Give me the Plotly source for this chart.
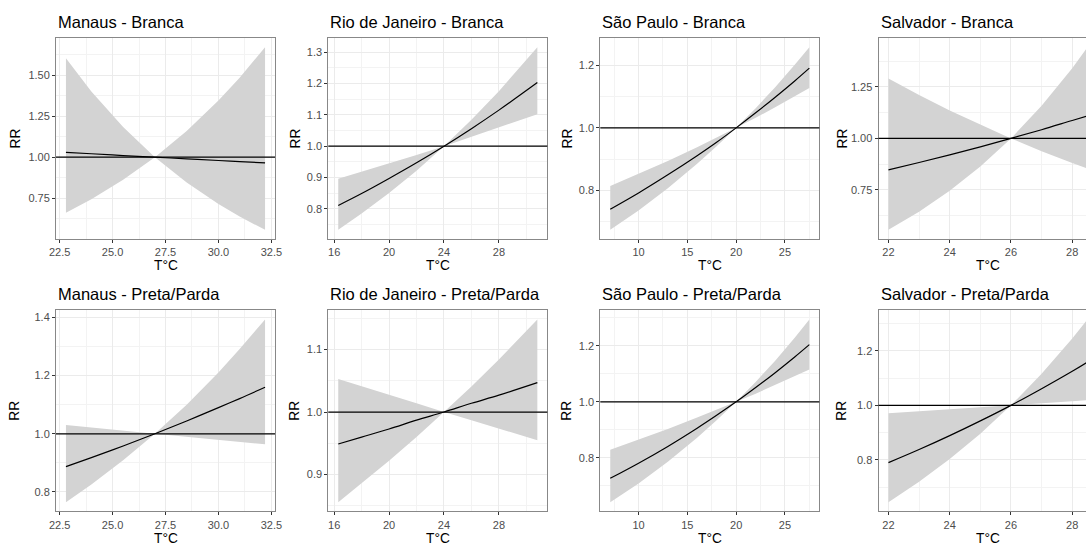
import plotly.graph_objects as go

W, H = 1086, 545

# ---------------- data ----------------
manaus_x = [22.8, 24.0, 25.5, 27.0, 28.5, 30.0, 31.0, 32.2]
rio_x = [16.3, 18.0, 20.0, 22.0, 24.0, 26.0, 28.0, 30.8]
sp_x = [7.1, 10.0, 13.0, 16.0, 18.0, 20.0, 22.0, 24.0, 26.0, 27.5]
salvador_x = [22.0, 23.0, 24.0, 25.0, 26.0, 27.0, 28.0, 28.5]

manaus_branca_rr = [1.029, 1.021, 1.010, 1.000, 0.990, 0.980, 0.973, 0.965]
manaus_branca_lo = [0.661, 0.744, 0.862, 1.000, 0.845, 0.714, 0.638, 0.557]
manaus_branca_hi = [1.603, 1.401, 1.184, 1.000, 1.160, 1.345, 1.484, 1.671]

rio_branca_rr = [0.811, 0.849, 0.897, 0.947, 1.000, 1.056, 1.115, 1.203]
rio_branca_lo = [0.733, 0.785, 0.851, 0.922, 1.000, 1.029, 1.059, 1.102]
rio_branca_hi = [0.896, 0.918, 0.944, 0.972, 1.000, 1.084, 1.175, 1.316]

sp_branca_rr = [0.740, 0.792, 0.850, 0.911, 0.954, 1.000, 1.048, 1.098, 1.150, 1.191]
sp_branca_lo = [0.674, 0.736, 0.807, 0.885, 0.941, 1.000, 1.032, 1.066, 1.100, 1.127]
sp_branca_hi = [0.814, 0.853, 0.894, 0.938, 0.969, 1.000, 1.063, 1.130, 1.202, 1.258]

salvador_branca_rr = [0.847, 0.883, 0.920, 0.959, 1.000, 1.042, 1.087, 1.109]
salvador_branca_lo = [0.556, 0.644, 0.746, 0.863, 1.000, 0.938, 0.880, 0.853]
salvador_branca_hi = [1.291, 1.211, 1.136, 1.066, 1.000, 1.158, 1.341, 1.443]

manaus_preta_rr = [0.887, 0.918, 0.958, 1.000, 1.044, 1.090, 1.121, 1.160]
manaus_preta_lo = [0.765, 0.826, 0.909, 1.000, 0.990, 0.979, 0.972, 0.964]
manaus_preta_hi = [1.030, 1.021, 1.011, 1.000, 1.100, 1.211, 1.291, 1.393]

rio_preta_rr = [0.949, 0.960, 0.973, 0.987, 1.000, 1.014, 1.027, 1.047]
rio_preta_lo = [0.856, 0.886, 0.922, 0.960, 1.000, 0.987, 0.973, 0.955]
rio_preta_hi = [1.053, 1.041, 1.027, 1.014, 1.000, 1.041, 1.084, 1.148]

sp_preta_rr = [0.727, 0.781, 0.841, 0.906, 0.952, 1.000, 1.051, 1.104, 1.160, 1.204]
sp_preta_lo = [0.642, 0.709, 0.786, 0.872, 0.934, 1.000, 1.029, 1.060, 1.091, 1.115]
sp_preta_hi = [0.829, 0.865, 0.903, 0.944, 0.971, 1.000, 1.071, 1.147, 1.229, 1.294]

salvador_preta_rr = [0.790, 0.838, 0.889, 0.943, 1.000, 1.061, 1.125, 1.159]
salvador_preta_lo = [0.645, 0.720, 0.803, 0.896, 1.000, 1.007, 1.015, 1.019]
salvador_preta_hi = [0.971, 0.978, 0.985, 0.993, 1.000, 1.116, 1.245, 1.315]

titles = [
    "Manaus - Branca", "Rio de Janeiro - Branca", "São Paulo - Branca", "Salvador - Branca",
    "Manaus - Preta/Parda", "Rio de Janeiro - Preta/Parda", "São Paulo - Preta/Parda", "Salvador - Preta/Parda",
]
x_label = "T°C"
y_label = "RR"

panels = [
    (manaus_x, manaus_branca_rr, manaus_branca_lo, manaus_branca_hi),
    (rio_x, rio_branca_rr, rio_branca_lo, rio_branca_hi),
    (sp_x, sp_branca_rr, sp_branca_lo, sp_branca_hi),
    (salvador_x, salvador_branca_rr, salvador_branca_lo, salvador_branca_hi),
    (manaus_x, manaus_preta_rr, manaus_preta_lo, manaus_preta_hi),
    (rio_x, rio_preta_rr, rio_preta_lo, rio_preta_hi),
    (sp_x, sp_preta_rr, sp_preta_lo, sp_preta_hi),
    (salvador_x, salvador_preta_rr, salvador_preta_lo, salvador_preta_hi),
]

# ---------------- styling / layout ----------------
col_left = [56, 328.3, 600.3, 878.5]
panel_w = 219
row_top = [38, 310.3]
panel_h = 201
rr_px = [15, 295, 567, 842]

x_dtick = [2.5, 4, 5, 2]
x_fmt = [".1f", "d", "d", "d"]
y_dtick = [0.25, 0.1, 0.2, 0.25, 0.2, 0.1, 0.2, 0.2]
y_fmt = [".2f", ".1f", ".1f", ".2f", ".1f", ".1f", ".1f", ".1f"]

FONT = "Liberation Sans, Arial, sans-serif"
RIBBON = "#D3D3D3"
BORDER = "#888888"
GRID = "#EBEBEB"
MINOR = "#F3F3F3"

fig = go.Figure()
layout = {}
shapes = []
annotations = []

for k, (xs, rr, lo, hi) in enumerate(panels):
    idx = k + 1
    col = k % 4
    row = k // 4
    xa = "x" if idx == 1 else f"x{idx}"
    ya = "y" if idx == 1 else f"y{idx}"

    # ribbon
    fig.add_trace(go.Scatter(
        x=list(xs) + list(xs)[::-1], y=list(hi) + list(lo)[::-1],
        fill="toself", fillcolor=RIBBON, line=dict(width=0),
        mode="lines", hoverinfo="skip", xaxis=xa, yaxis=ya,
    ))
    # curve
    fig.add_trace(go.Scatter(
        x=xs, y=rr, mode="lines", line=dict(color="black", width=1.2, shape="spline"),
        xaxis=xa, yaxis=ya,
    ))

    # ranges (ggplot-style 5% expansion)
    xmin, xmax = min(xs), max(xs)
    xspan = xmax - xmin
    xr0, xr1 = xmin - 0.05 * xspan, xmax + 0.05 * xspan
    left = col_left[col]
    right = left + panel_w
    if right > W:
        frac = (W - left) / panel_w
        xr1 = xr0 + (xr1 - xr0) * frac
        right = W
    ymin, ymax = min(lo), max(hi)
    yspan = ymax - ymin
    yr0, yr1 = ymin - 0.05 * yspan, ymax + 0.05 * yspan

    top = row_top[row]
    bottom = top + panel_h

    common = dict(
        showgrid=True, gridcolor=GRID, gridwidth=1,
        zeroline=False, showline=True, linecolor=BORDER, linewidth=1,
        ticks="outside", ticklen=3, tickcolor="#333333", tickwidth=1,
        tickfont=dict(family=FONT, size=11, color="#4D4D4D"),
        automargin=False,
    )
    layout["xaxis" if idx == 1 else f"xaxis{idx}"] = dict(
        common, domain=[left / W, min(right / W, 1.0)], anchor=ya,
        range=[xr0, xr1], tick0=0, dtick=x_dtick[col], tickformat=x_fmt[col],
        mirror=True,
        minor=dict(showgrid=True, gridcolor=MINOR, gridwidth=0.6, tick0=0, dtick=x_dtick[col] / 2),
    )
    layout["yaxis" if idx == 1 else f"yaxis{idx}"] = dict(
        common, domain=[1 - bottom / H, 1 - top / H], anchor=xa,
        range=[yr0, yr1], tick0=0, dtick=y_dtick[k], tickformat=y_fmt[k],
        mirror=(right < W),
        minor=dict(showgrid=True, gridcolor=MINOR, gridwidth=0.6, tick0=0, dtick=y_dtick[k] / 2),
    )

    # reference line at RR = 1
    shapes.append(dict(
        type="line", xref=f"{xa} domain", yref=ya, x0=0, x1=1, y0=1, y1=1,
        line=dict(color="black", width=1.3), layer="above",
    ))

    # panel title
    annotations.append(dict(
        text=titles[k], x=left / W, y=1 - (top - 16) / H, xref="paper", yref="paper",
        xanchor="left", yanchor="middle", showarrow=False,
        font=dict(family=FONT, size=16.5, color="black"),
    ))
    # x axis title
    annotations.append(dict(
        text=x_label, x=(left + panel_w / 2) / W, y=1 - (bottom + 26.7) / H,
        xref="paper", yref="paper", xanchor="center", yanchor="middle", showarrow=False,
        font=dict(family=FONT, size=13.75, color="black"),
    ))
    # y axis title
    annotations.append(dict(
        text=y_label, x=rr_px[col] / W, y=1 - (top + panel_h / 2) / H,
        xref="paper", yref="paper", xanchor="center", yanchor="middle", showarrow=False,
        textangle=-90, font=dict(family=FONT, size=13.75, color="black"),
    ))

fig.update_layout(
    width=W, height=H, autosize=False, margin=dict(l=0, r=0, t=0, b=0, pad=0),
    paper_bgcolor="white", plot_bgcolor="white", showlegend=False,
    shapes=shapes, annotations=annotations, **layout,
)

fig.write_html(
    "out.html",
    config={"displayModeBar": False, "responsive": False},
    post_script="document.body.style.margin='0';document.body.style.padding='0';"
                "document.body.style.overflow='hidden';document.documentElement.style.overflow='hidden';",
)
